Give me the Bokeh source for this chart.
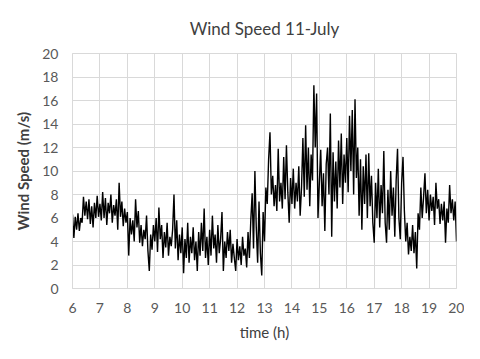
from bokeh.plotting import figure
from bokeh.embed import file_html
from bokeh.resources import INLINE
from bokeh.models import ColumnDataSource, FixedTicker, Range1d

start_hour = 6
samples_per_hour = 20

h06 = [6.3, 4.3, 6.1, 5.0, 6.4, 4.9, 6.0, 5.6, 7.8, 6.2, 7.4, 5.9, 7.6, 5.5, 7.0, 5.2, 7.3, 6.0, 7.9, 6.1]
h07 = [7.2, 5.8, 8.2, 6.0, 7.7, 5.4, 7.3, 6.4, 8.0, 5.6, 7.1, 6.2, 7.6, 5.0, 9.0, 6.1, 7.4, 5.3, 6.8, 5.6]
h08 = [6.5, 2.8, 6.0, 4.6, 5.8, 4.0, 7.6, 5.2, 6.6, 3.9, 5.4, 3.6, 5.0, 4.2, 6.2, 3.2, 1.5, 4.6, 3.3, 5.4]
h09 = [4.0, 6.0, 3.1, 6.9, 4.2, 5.4, 2.6, 4.8, 3.5, 5.6, 2.8, 4.4, 3.6, 5.0, 8.0, 3.4, 5.8, 2.4, 4.6, 3.0]
h10 = [5.2, 1.3, 4.2, 2.6, 5.6, 2.2, 4.4, 3.0, 5.2, 2.4, 4.0, 1.5, 4.8, 2.8, 5.6, 3.2, 6.8, 2.6, 4.4, 2.0]
h11 = [5.0, 2.8, 6.2, 3.4, 4.6, 2.2, 5.4, 3.0, 4.2, 6.5, 1.5, 4.0, 2.6, 4.8, 3.2, 5.0, 2.2, 3.8, 2.6, 1.5]
h12 = [4.2, 2.4, 3.6, 2.0, 4.4, 2.8, 3.4, 1.8, 4.8, 2.6, 5.8, 8.1, 3.4, 10.0, 5.2, 2.2, 7.4, 3.0, 1.1, 6.5]
h13 = [4.0, 8.6, 7.2, 11.0, 13.3, 8.0, 9.6, 7.0, 8.8, 6.6, 11.9, 7.4, 9.0, 6.8, 11.2, 7.6, 12.2, 8.2, 5.6, 9.4]
h14 = [7.2, 10.2, 6.8, 9.0, 7.4, 10.4, 6.2, 8.6, 12.8, 7.8, 13.9, 8.4, 12.0, 7.0, 11.4, 9.2, 17.3, 12.0, 16.6, 6.0]
h15 = [9.0, 11.8, 7.0, 9.8, 4.9, 10.6, 12.0, 8.0, 14.9, 4.4, 11.6, 7.4, 10.8, 6.8, 12.6, 8.6, 13.2, 7.2, 11.4, 9.0]
h16 = [12.8, 8.2, 14.7, 10.0, 15.2, 8.0, 16.1, 9.4, 12.0, 6.2, 11.0, 5.0, 10.4, 7.2, 11.4, 6.0, 11.5, 7.0, 9.6, 5.6]
h17 = [3.9, 9.0, 6.0, 10.2, 5.2, 8.8, 6.4, 11.7, 5.6, 3.9, 8.4, 5.0, 10.0, 6.2, 8.6, 4.4, 9.2, 11.9, 6.0, 4.2]
h18 = [9.0, 11.2, 6.6, 4.0, 5.6, 2.9, 4.4, 3.2, 5.4, 3.0, 4.8, 1.7, 6.4, 5.0, 8.6, 6.0, 7.8, 9.8, 6.4, 8.4]
h19 = [5.8, 8.0, 6.6, 7.8, 5.4, 9.0, 6.8, 7.6, 5.5, 7.2, 5.8, 7.4, 3.9, 6.8, 5.6, 8.8, 6.4, 7.6, 5.8, 7.4]
h20 = [4.0]

speed = h06 + h07 + h08 + h09 + h10 + h11 + h12 + h13 + h14 + h15 + h16 + h17 + h18 + h19 + h20
time_h = [start_hour + i / samples_per_hour for i in range(len(speed))]

x_ticks = list(range(6, 21))
y_ticks = list(range(0, 21, 2))
title_text = "Wind Speed 11-July"

FONT = "Lato"
TXT = "#595959"
GRID = "#d9d9d9"

src = ColumnDataSource(dict(t=time_h, v=speed))

p = figure(width=464, height=343, output_backend="svg", toolbar_location=None,
           x_range=Range1d(x_ticks[0], x_ticks[-1]), y_range=Range1d(y_ticks[0], y_ticks[-1]),
           title=title_text,
           min_border_left=72, min_border_right=8, min_border_top=53, min_border_bottom=55)

p.line("t", "v", source=src, line_color="black", line_width=1.4)

p.title.align = "center"
p.title.text_font = FONT
p.title.text_font_size = "17px"
p.title.text_font_style = "normal"
p.title.text_color = "#404040"
p.title.standoff = 30

p.xaxis.ticker = FixedTicker(ticks=x_ticks)
p.yaxis.ticker = FixedTicker(ticks=y_ticks)
p.xgrid.ticker = FixedTicker(ticks=x_ticks)
p.ygrid.ticker = FixedTicker(ticks=y_ticks)

for ax in (p.xaxis[0], p.yaxis[0]):
    ax.axis_line_color = GRID
    ax.major_tick_line_color = None
    ax.minor_tick_line_color = None
    ax.major_tick_out = 0
    ax.major_tick_in = 0
    ax.minor_tick_out = 0
    ax.major_label_text_font = FONT
    ax.major_label_text_font_size = "14px"
    ax.major_label_text_color = TXT
    ax.axis_label_text_font = FONT
    ax.axis_label_text_font_size = "15px"
    ax.axis_label_text_color = "#404040"

p.xaxis.axis_label = "time (h)"
p.xaxis.axis_label_text_font_style = "normal"
p.xaxis.major_label_standoff = 14
p.xaxis.axis_label_standoff = 7

p.yaxis.axis_label = "Wind Speed (m/s)"
p.yaxis.axis_label_text_font_style = "bold"
p.yaxis.major_label_standoff = 14
p.yaxis.axis_label_standoff = 7

p.xgrid.grid_line_color = GRID
p.ygrid.grid_line_color = GRID
p.outline_line_color = GRID
p.background_fill_color = "white"
p.border_fill_color = "white"

open("out.html", "w").write(file_html(p, INLINE))
